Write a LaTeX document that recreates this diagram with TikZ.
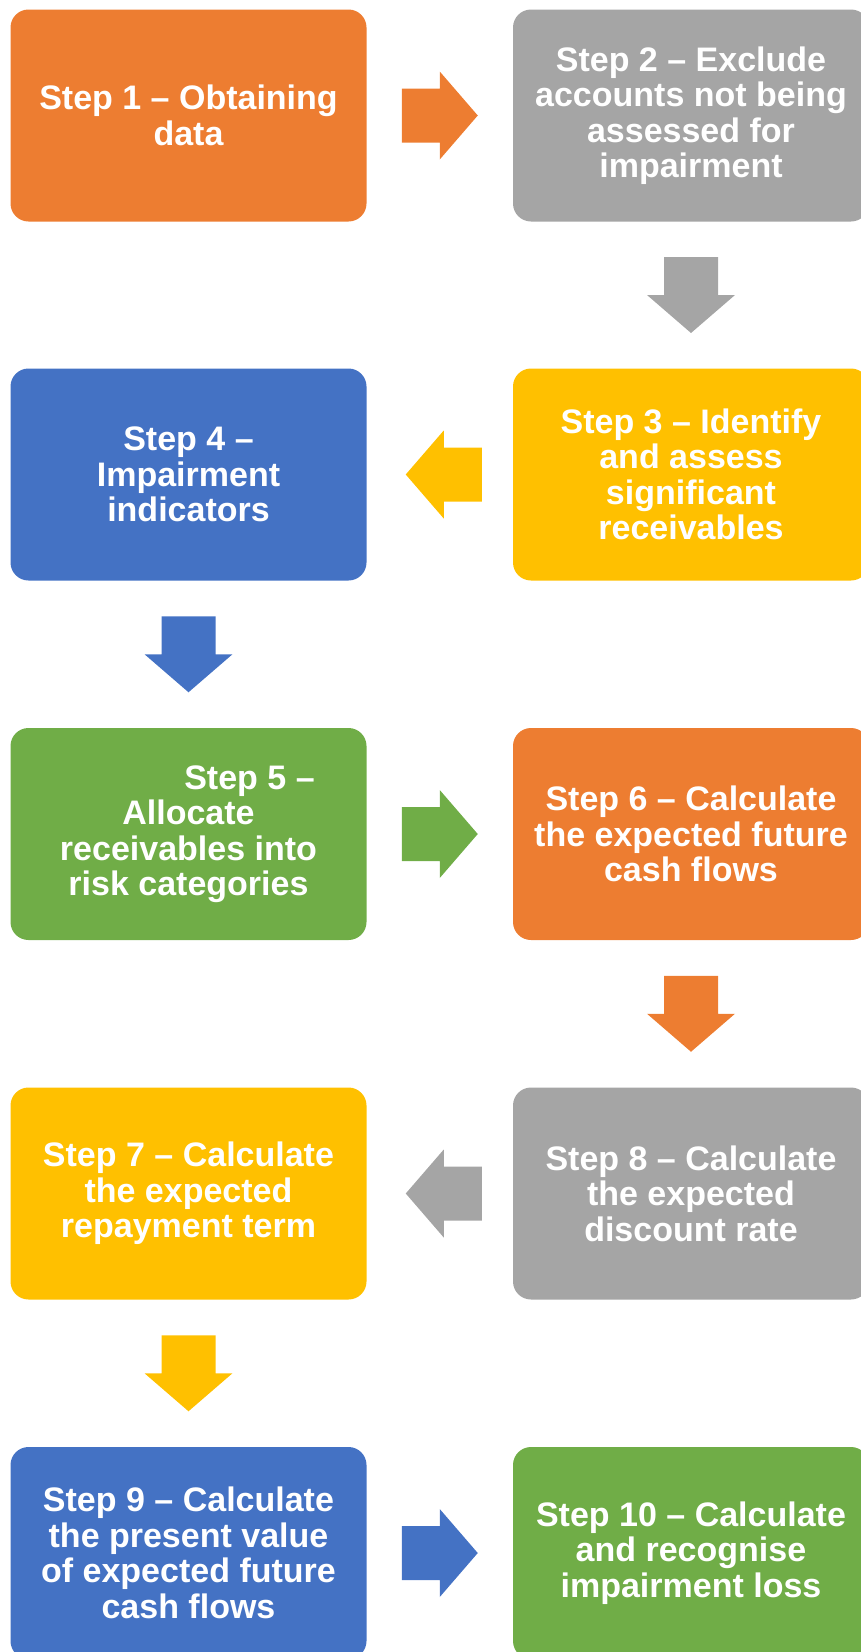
\documentclass[tikz,border=0pt]{standalone}
\usepackage{fontspec}
\setmainfont{Liberation Sans}
\usetikzlibrary{calc}

\definecolor{stepOrange}{HTML}{ED7D31}
\definecolor{stepGrey}{HTML}{A5A5A5}
\definecolor{stepYellow}{HTML}{FFC000}
\definecolor{stepBlue}{HTML}{4472C4}
\definecolor{stepGreen}{HTML}{70AD47}

\tikzset{
  stepbox/.style={rectangle, rounded corners=18pt, minimum width=356pt,
    minimum height=212pt, inner sep=0pt, text=white, align=center,
    font=\fontsize{34}{35.5}\selectfont\bfseries},
}

% block arrow: colour, rotation, centre
\newcommand{\blockarrow}[3]{%
  \fill [#1, shift={#3}, rotate=#2] (-38,-27) -- (0,-27) -- (0,-44) -- (38,0)
    -- (0,44) -- (0,27) -- (-38,27) -- cycle;%
}

\begin{document}
\begin{tikzpicture}[x=1pt, y=-1pt]
                    \useasboundingbox (0,0) rectangle (861,1652);

                    % Marking step 1
                    \draw (188.5,115.5) node [stepbox, fill=stepOrange] (s1) {Step 1 – Obtaining\\data};%

                    % Marking step 2
                    \draw (691,115.5) node [stepbox, fill=stepGrey] (s2) {Step 2 – Exclude\\accounts not being\\assessed for\\impairment};%

                    % Marking step 3
                    \draw (691,474.5) node [stepbox, fill=stepYellow] (s3) {Step 3 – Identify\\and assess\\significant\\receivables};%

                    % Marking step 4
                    \draw (188.5,474.5) node [stepbox, fill=stepBlue] (s4) {Step 4 –\\Impairment\\indicators};%

                    % Marking step 5
                    \draw (188.5,834) node [stepbox, fill=stepGreen] (s5) {\hspace*{122pt}Step 5 –\\Allocate\\receivables into\\risk categories};%

                    % Marking step 6
                    \draw (691,834) node [stepbox, fill=stepOrange] (s6) {Step 6 – Calculate\\the expected future\\cash flows};%

                    % Marking step 8
                    \draw (691,1193.5) node [stepbox, fill=stepGrey] (s8) {Step 8 – Calculate\\the expected\\discount rate};%

                    % Marking step 7
                    \draw (188.5,1193.5) node [stepbox, fill=stepYellow] (s7) {Step 7 – Calculate\\the expected\\repayment term};%

                    % Marking step 9
                    \draw (188.5,1553) node [stepbox, fill=stepBlue] (s9) {Step 9 – Calculate\\the present value\\of expected future\\cash flows};%

                    % Marking step 10
                    \draw (691,1553) node [stepbox, fill=stepGreen] (s10) {Step 10 – Calculate\\and recognise\\impairment loss};%

                    % Drawing arrow s1 s2
                    \blockarrow{stepOrange}{0}{($(s1.east)!0.5!(s2.west)$)}

                    % Drawing arrow s2 s3
                    \blockarrow{stepGrey}{-90}{($(s2.south)!0.5!(s3.north)$)}

                    % Drawing arrow s3 s4
                    \blockarrow{stepYellow}{180}{($(s3.west)!0.5!(s4.east)+(4,0)$)}

                    % Drawing arrow s4 s5
                    \blockarrow{stepBlue}{-90}{($(s4.south)!0.5!(s5.north)$)}

                    % Drawing arrow s5 s6
                    \blockarrow{stepGreen}{0}{($(s5.east)!0.5!(s6.west)$)}

                    % Drawing arrow s6 s8
                    \blockarrow{stepOrange}{-90}{($(s6.south)!0.5!(s8.north)$)}

                    % Drawing arrow s8 s7
                    \blockarrow{stepGrey}{180}{($(s8.west)!0.5!(s7.east)+(4,0)$)}

                    % Drawing arrow s7 s9
                    \blockarrow{stepYellow}{-90}{($(s7.south)!0.5!(s9.north)$)}

                    % Drawing arrow s9 s10
                    \blockarrow{stepBlue}{0}{($(s9.east)!0.5!(s10.west)$)}
\end{tikzpicture}
\end{document}
